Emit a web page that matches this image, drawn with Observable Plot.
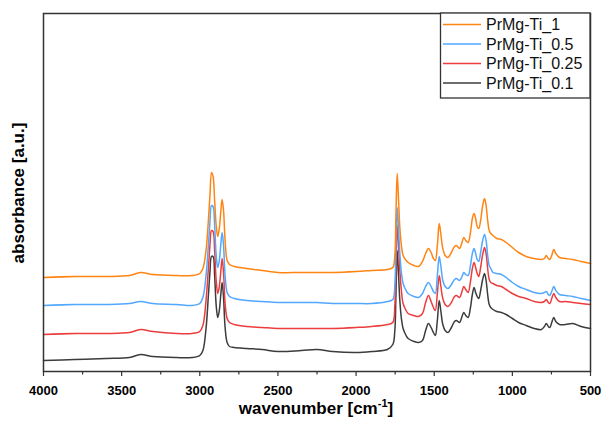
<!DOCTYPE html>
<html>
<head>
<meta charset="utf-8">
<script src="https://cdn.jsdelivr.net/npm/d3@7"></script>
<script src="https://cdn.jsdelivr.net/npm/@observablehq/plot@0.6"></script>
<style>
  html, body { margin: 0; padding: 0; background: #fff; }
  #chart { width: 602px; height: 428px; }
</style>
</head>
<body>
<div id="chart"></div>
<script>
// wavenumber grid [cm-1]
const wavenumber = [4000,3800,3600,3450,3380,3300,3150,3050,3000,2980,2960,2945,2935,2925,2915,2905,2895,2885,2875,2865,2857,2848,2838,2825,2810,2780,2700,2600,2500,2350,2250,2150,2000,1900,1800,1765,1752,1745,1737,1728,1720,1710,1699,1680,1667,1630,1600,1575,1555,1537,1520,1505,1493,1480,1468,1458,1445,1430,1412,1390,1370,1358,1338,1322,1311,1298,1283,1268,1256,1245,1235,1225,1215,1203,1190,1178,1168,1158,1148,1138,1124,1100,1070,1040,1000,960,911,860,815,795,783,770,760,748,735,722,698,660,613,560,500];

const series = ["PrMg-Ti_1","PrMg-Ti_0.5","PrMg-Ti_0.25","PrMg-Ti_0.1"];
const colors = ["#ff8412","#52a7ff","#eb3d3d","#3c3c3c"];

const absorbance_1 = [0.94,0.95,0.95,0.96,0.99,0.97,0.96,0.96,0.98,1.03,1.21,1.51,1.76,1.99,1.95,1.71,1.46,1.35,1.43,1.61,1.72,1.61,1.31,1.11,1.07,1.05,1.03,1.01,0.99,0.99,0.99,0.99,1.00,1.01,1.02,1.04,1.16,1.56,1.98,1.71,1.44,1.26,1.16,1.11,1.09,1.06,1.05,1.10,1.18,1.23,1.19,1.13,1.11,1.26,1.48,1.38,1.23,1.16,1.14,1.19,1.25,1.26,1.23,1.29,1.34,1.31,1.29,1.39,1.53,1.58,1.53,1.45,1.43,1.51,1.66,1.73,1.66,1.51,1.41,1.38,1.36,1.33,1.32,1.29,1.24,1.19,1.15,1.13,1.12,1.13,1.16,1.13,1.12,1.16,1.22,1.18,1.14,1.13,1.12,1.10,1.08];
const absorbance_05 = [0.66,0.67,0.67,0.68,0.70,0.68,0.67,0.66,0.68,0.74,0.96,1.26,1.49,1.66,1.65,1.46,1.16,1.04,1.11,1.28,1.39,1.26,0.96,0.79,0.75,0.73,0.71,0.70,0.69,0.69,0.69,0.68,0.68,0.68,0.70,0.72,0.86,1.26,1.64,1.41,1.18,0.99,0.88,0.81,0.78,0.75,0.74,0.78,0.85,0.89,0.85,0.80,0.78,0.96,1.15,1.06,0.91,0.85,0.83,0.87,0.92,0.93,0.91,0.95,0.99,0.97,0.96,1.06,1.18,1.23,1.18,1.12,1.10,1.19,1.31,1.37,1.31,1.16,1.06,1.03,0.99,0.98,0.97,0.94,0.89,0.85,0.82,0.79,0.78,0.79,0.80,0.77,0.76,0.80,0.85,0.81,0.77,0.76,0.75,0.73,0.71];
const absorbance_025 = [0.37,0.38,0.38,0.39,0.42,0.40,0.38,0.38,0.40,0.46,0.71,1.03,1.26,1.41,1.40,1.21,0.91,0.78,0.85,1.01,1.13,0.99,0.68,0.53,0.49,0.47,0.45,0.44,0.43,0.43,0.43,0.43,0.44,0.45,0.47,0.49,0.66,1.06,1.46,1.23,1.01,0.81,0.68,0.61,0.58,0.56,0.55,0.58,0.69,0.76,0.70,0.64,0.61,0.78,0.96,0.86,0.73,0.67,0.65,0.69,0.75,0.76,0.74,0.80,0.85,0.82,0.79,0.90,1.03,1.09,1.04,0.98,0.95,1.04,1.17,1.24,1.18,1.03,0.92,0.89,0.88,0.86,0.85,0.82,0.78,0.75,0.73,0.70,0.69,0.70,0.72,0.69,0.68,0.73,0.78,0.74,0.70,0.70,0.69,0.68,0.67];
const absorbance_01 = [0.11,0.12,0.13,0.14,0.17,0.15,0.14,0.14,0.16,0.21,0.43,0.76,0.99,1.15,1.15,0.96,0.66,0.54,0.61,0.78,0.89,0.74,0.44,0.29,0.25,0.24,0.23,0.22,0.20,0.21,0.22,0.20,0.19,0.20,0.22,0.27,0.41,0.76,1.21,0.96,0.71,0.53,0.43,0.36,0.33,0.30,0.29,0.31,0.41,0.48,0.44,0.39,0.36,0.51,0.71,0.61,0.47,0.41,0.39,0.44,0.50,0.51,0.49,0.55,0.59,0.56,0.54,0.64,0.77,0.84,0.79,0.75,0.73,0.81,0.92,0.98,0.91,0.77,0.67,0.64,0.62,0.60,0.59,0.57,0.53,0.49,0.46,0.43,0.42,0.45,0.48,0.45,0.44,0.49,0.54,0.50,0.47,0.47,0.48,0.45,0.43];

const majorTicks = [4000,3500,3000,2500,2000,1500,1000,500];
const minorTicks = [3750,3250,2750,2250,1750,1250,750];

const valueArrays = [absorbance_1, absorbance_05, absorbance_025, absorbance_01];
const rows = [];
// draw order: 0.1 first, 1 last (on top)
for (let s = series.length - 1; s >= 0; s--) {
  wavenumber.forEach((w, i) => {
    const v = valueArrays[s][i];
    if (v !== undefined) rows.push({wn: w, a: v, sample: series[s]});
  });
}

const font = "'Liberation Sans', Arial, Helvetica, sans-serif";

const svg = Plot.plot({
  width: 602,
  height: 428,
  marginLeft: 43,
  marginRight: 12,
  marginTop: 13,
  marginBottom: 57,
  style: {fontFamily: font, background: "#fff", overflow: "visible"},
  x: {domain: [4000, 500], label: null},
  y: {domain: [0, 3.58], axis: null},
  color: {domain: series, range: colors},
  marks: [
    Plot.line(rows, {x: "wn", y: "a", z: "sample", stroke: "sample", strokeWidth: 1.5, curve: "catmull-rom"}),
    Plot.axisX({ticks: minorTicks, tickSize: 3.5, text: null, stroke: "#333", strokeWidth: 1.2}),
    Plot.axisX({ticks: majorTicks, tickSize: 5, tickPadding: 9, fontSize: 13, fontWeight: "bold", fill: "#000", stroke: "#333", strokeWidth: 1.2, tickFormat: d => String(d), label: null}),
    Plot.frame({stroke: "#333", strokeWidth: 1.5})
  ]
});

const root = d3.select(svg);

// x axis label with superscript
const xl = root.append("text")
  .attr("x", 316).attr("y", 414)
  .attr("text-anchor", "middle")
  .attr("font-family", font)
  .attr("font-size", 17).attr("font-weight", "bold").attr("fill", "#000");
xl.append("tspan").text("wavenumber [cm");
xl.append("tspan").attr("font-size", 11).attr("dy", -7).text("-1");
xl.append("tspan").attr("dy", 7).text("]");

// y axis label
root.append("text")
  .attr("transform", "translate(24,193) rotate(-90)")
  .attr("text-anchor", "middle")
  .attr("font-family", font)
  .attr("font-size", 17).attr("font-weight", "bold").attr("fill", "#000")
  .text("absorbance [a.u.]");

// legend box
const lg = root.append("g");
lg.append("rect")
  .attr("x", 440.5).attr("y", 13).attr("width", 149.5).attr("height", 85)
  .attr("fill", "#fff").attr("stroke", "#333").attr("stroke-width", 1.3);
series.forEach((name, i) => {
  const y = 24.5 + i * 19.5;
  lg.append("line")
    .attr("x1", 443).attr("x2", 481).attr("y1", y).attr("y2", y)
    .attr("stroke", colors[i]).attr("stroke-width", 1.6);
  lg.append("text")
    .attr("x", 486).attr("y", y + 5.5)
    .attr("text-anchor", "start")
    .attr("font-family", font).attr("font-size", 16).attr("fill", "#111")
    .text(name);
});

document.getElementById("chart").appendChild(svg);
</script>
</body>
</html>
